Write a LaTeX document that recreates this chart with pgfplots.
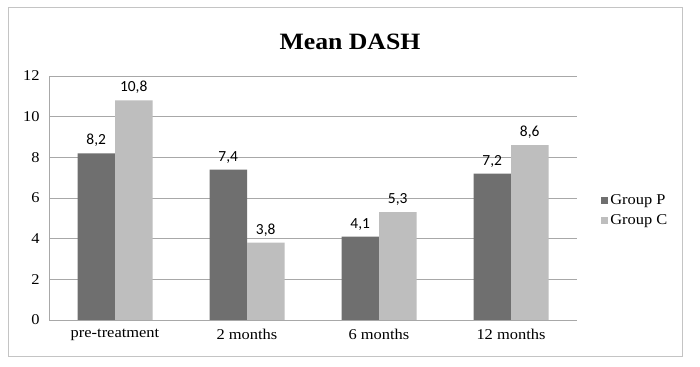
\documentclass[border=0pt]{standalone}
\usepackage{pgfplots}
\pgfplotsset{compat=1.18}
\usepackage{fontspec}
\setmainfont{Liberation Serif}[FakeStretch=1.1]
\newfontfamily\lblfont{Carlito}
\definecolor{dk}{HTML}{6F6F6F}
\definecolor{lt}{HTML}{BEBEBE}
\definecolor{gridc}{HTML}{A8A8A8}
\definecolor{bord}{HTML}{C4C4C4}
\begin{document}
\begin{tikzpicture}
\path[fill=white] (0,0) rectangle (700bp,367bp);
\draw[bord, line width=1bp] (8bp,10bp) rectangle (682bp,359bp);
\node[font=\fontsize{23.5}{28}\selectfont\bfseries] at (350bp,325bp) {Mean DASH};
\begin{axis}[
  at={(49bp,47bp)}, anchor=south west,
  scale only axis, width=528bp, height=244bp,
  ymin=0, ymax=12, ytick={0,2,4,6,8,10,12},
  xmin=-0.5, xmax=3.5, xtick={0,1,2,3},
  xticklabels={pre-treatment, 2 months, 6 months, 12 months},
  ybar=0pt, bar width=37.5bp,
  axis lines*=left, axis line style={-, gridc, line width=0.8bp},
  ymajorgrids, grid style={gridc, line width=0.8bp},
  major tick length=0pt,
  tick label style={font=\fontsize{15}{17}\selectfont, text=black},
  /pgf/number format/assume math mode=true,
  xticklabel style={yshift=-6bp},
  yticklabel style={xshift=-6bp},
  nodes near coords,
  nodes near coords style={font=\lblfont\fontsize{15.5}{17}\selectfont, text=black, yshift=3bp, /pgf/number format/.cd, use comma, fixed, fixed zerofill, precision=1},
  legend style={draw=none, fill=none, at={(1.04,0.45)}, anchor=west, font=\fontsize{15}{17}\selectfont, row sep=5bp, cells={anchor=west}},
  legend image code/.code={\fill[#1] (0bp,-3.5bp) rectangle (7bp,3.5bp);},
  legend cell align=left,
]
\addplot[fill=dk, draw=none] coordinates {(0,8.2) (1,7.4) (2,4.1) (3,7.2)};
\addplot[fill=lt, draw=none] coordinates {(0,10.8) (1,3.8) (2,5.3) (3,8.6)};
\legend{Group P, Group C}
\end{axis}
\end{tikzpicture}
\end{document}
